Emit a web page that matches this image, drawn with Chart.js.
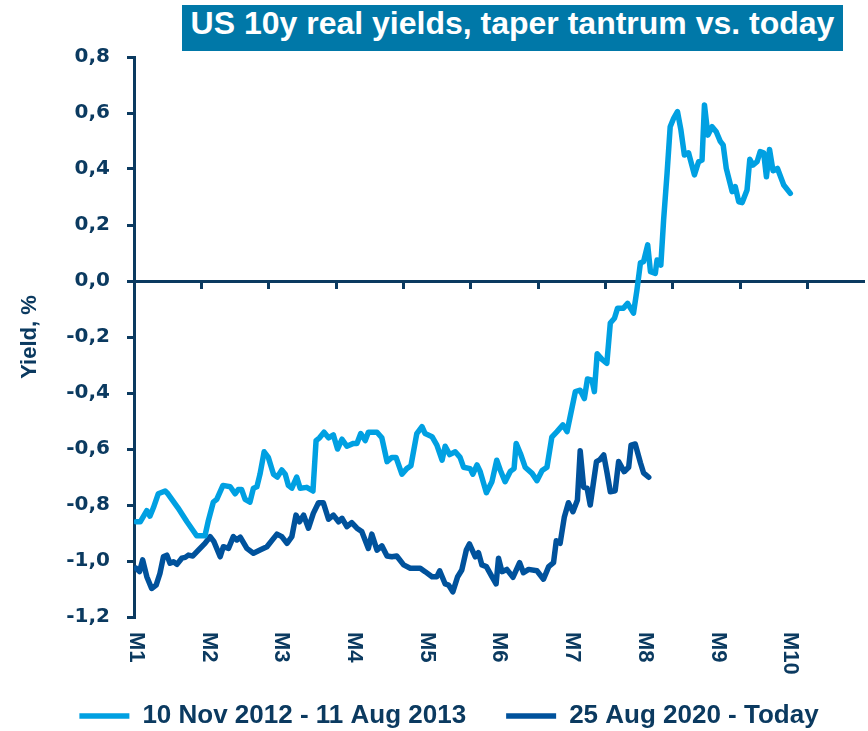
<!DOCTYPE html>
<html>
<head>
<meta charset="utf-8">
<script src="https://cdn.jsdelivr.net/npm/chart.js@4.4.1/dist/chart.umd.min.js"></script>
<style>
body { margin: 0; background: #fff; }
#wrap { position: relative; width: 868px; height: 731px; }
#titulo {
    position: absolute; left: 182px; top: 5px; width: 661px; height: 46px;
    background: #0078a8; color: #fff; text-align: center; line-height: 46px;
    font: bold 32px "Liberation Sans", Arial, sans-serif; white-space: nowrap;
}
</style>
</head>
<body>
<div id="wrap">
    <canvas id="grafico"></canvas>
    <div id="titulo">US 10y real yields, taper tantrum vs. today</div>
</div>
<script>
// Dados (eixo x em dias úteis desde o início do período)
const monthLabels = ['M1', 'M2', 'M3', 'M4', 'M5', 'M6', 'M7', 'M8', 'M9', 'M10'];
const monthDays = [0, 21, 42, 63, 84, 105, 126, 147, 168, 189];
const zeroAxisTicks = [-0.6, 18.9, 38.3, 57.8, 77.3, 96.7, 116.2, 135.6, 155.1, 174.6, 194.0];

const taperDays = [0,1.2,3.1,4.0,5.0,6.4,8.4,9.2,12.1,14.7,
    17.5,19.9,20.8,22.3,23.3,25.1,27.2,28.6,29.5,30.5,
    31.5,32.9,33.9,34.9,35.8,37.0,38.2,39.7,40.8,42.1,
    43.1,44.0,45.0,46.4,47.4,49.3,51.1,52.0,53.0,54.3,
    55.6,57.0,58.2,59.5,60.9,62.8,63.8,64.9,66.2,67.1,
    69.6,71.0,72.5,73.9,75.1,76.8,78.2,79.4,81.1,82.6,
    83.5,85.5,86.9,88.4,89.3,90.6,92.2,93.6,94.6,96.5,
    97.3,98.5,99.4,101.2,102.8,104.2,105.2,106.6,108.1,109.2,
    109.8,111.0,112.4,114.4,115.8,117.3,118.7,120.1,121.6,123.3,
    124.5,126.9,128.3,129.5,130.4,131.7,132.4,133.2,134.6,136.0,
    137.0,138.2,139.1,140.8,142.0,143.7,144.7,145.7,146.6,147.8,
    148.6,150.0,150.5,151.6,152.4,153.4,154.3,155.3,156.4,157.4,
    158.4,159.6,161.3,162.5,163.5,164.2,165.2,166.4,167.6,168.8,
    169.6,170.5,172.2,173.1,174.1,175.1,176.5,177.3,178.2,179.4,
    180.3,181.3,182.1,183.0,184.0,185.3,187.1,189.0];
const taperYields = [-0.86,-0.86,-0.82,-0.84,-0.81,-0.76,-0.75,-0.76,-0.81,-0.86,
    -0.91,-0.91,-0.86,-0.79,-0.78,-0.73,-0.735,-0.76,-0.745,-0.745,
    -0.78,-0.79,-0.74,-0.735,-0.69,-0.61,-0.63,-0.69,-0.70,-0.675,
    -0.69,-0.73,-0.74,-0.70,-0.74,-0.737,-0.75,-0.57,-0.56,-0.54,
    -0.56,-0.55,-0.60,-0.565,-0.59,-0.58,-0.58,-0.545,-0.57,-0.54,
    -0.54,-0.56,-0.645,-0.63,-0.63,-0.69,-0.67,-0.66,-0.545,-0.52,
    -0.545,-0.556,-0.586,-0.64,-0.59,-0.62,-0.61,-0.63,-0.665,-0.67,
    -0.69,-0.657,-0.68,-0.756,-0.717,-0.64,-0.675,-0.717,-0.68,-0.67,
    -0.58,-0.615,-0.665,-0.687,-0.713,-0.677,-0.665,-0.558,-0.538,-0.514,
    -0.538,-0.395,-0.39,-0.42,-0.35,-0.354,-0.395,-0.26,-0.28,-0.294,
    -0.15,-0.133,-0.097,-0.097,-0.08,-0.115,-0.032,0.065,0.069,0.129,
    0.033,0.027,0.075,0.057,0.218,0.385,0.551,0.581,0.605,0.539,
    0.45,0.458,0.379,0.426,0.432,0.629,0.521,0.551,0.533,0.498,
    0.486,0.402,0.319,0.337,0.283,0.28,0.325,0.435,0.414,0.426,
    0.462,0.458,0.372,0.47,0.394,0.402,0.343,0.313];

const todayDays = [0,1.0,1.9,3.1,4.5,5.8,6.9,7.9,8.9,9.8,
    10.8,11.8,13.2,14.2,15.1,16.4,18.0,19.9,21.4,22.5,
    24.3,25.2,26.7,28.1,29.1,30.1,32.0,33.9,35.8,37.8,
    40.7,42.1,43.6,45.0,46.2,47.2,48.4,49.8,51.2,52.7,
    54.1,55.6,57.0,58.5,59.5,60.9,62.3,63.8,65.2,67.1,
    68.1,69.6,71.0,72.5,73.9,75.3,77.3,79.2,82.1,83.5,
    85.5,86.9,87.7,89.3,90.3,91.5,92.9,94.1,95.4,96.3,
    98.0,98.9,99.9,101.2,102.8,104.0,104.7,105.7,107.1,108.9,
    110.8,111.9,113.4,115.8,117.7,119.2,120.6,121.4,122.5,123.7,
    124.9,126.2,127.5,128.3,129.3,130.3,131.2,133.0,133.9,135.1,
    136.0,137.0,138.4,139.4,141.0,142.3,143.0,144.2,145.7,146.6,
    148.1];
const todayYields = [-1.026,-1.038,-0.996,-1.056,-1.098,-1.086,-1.044,-0.985,-0.979,-1.008,
    -1.003,-1.012,-0.99,-0.987,-0.979,-0.982,-0.961,-0.937,-0.913,-0.931,
    -0.985,-0.949,-0.955,-0.913,-0.925,-0.915,-0.955,-0.9725,-0.961,-0.949,
    -0.904,-0.913,-0.937,-0.913,-0.836,-0.86,-0.836,-0.883,-0.83,-0.792,
    -0.792,-0.851,-0.836,-0.86,-0.8475,-0.8775,-0.863,-0.883,-0.895,-0.955,
    -0.904,-0.961,-0.946,-0.982,-0.985,-0.982,-1.014,-1.026,-1.026,-1.038,
    -1.056,-1.056,-1.035,-1.082,-1.086,-1.11,-1.056,-1.032,-0.961,-0.939,
    -0.985,-0.97,-1.014,-1.02,-1.056,-1.082,-0.99,-1.038,-1.03,-1.058,
    -1.006,-1.042,-1.03,-1.035,-1.065,-1.02,-1.006,-0.9275,-0.937,-0.844,
    -0.792,-0.824,-0.782,-0.606,-0.737,-0.74,-0.80,-0.645,-0.639,-0.621,
    -0.681,-0.7525,-0.749,-0.645,-0.681,-0.665,-0.586,-0.582,-0.649,-0.685,
    -0.701];

// Cores
const navy = '#0b3a60';
const lightBlue = '#00a0e2';
const darkBlue = '#00529c';

Chart.defaults.font.family = '"Liberation Sans", Arial, sans-serif';
Chart.defaults.color = navy;

// Rótulos M1..M10 girados no sentido horário, abaixo do gráfico
const monthLabelsPlugin = {
    id: 'monthLabels',
    afterDraw(chart) {
        const sx = chart.scales.x;
        const c = chart.ctx;
        c.save();
        c.font = 'bold 22px "Liberation Sans", Arial, sans-serif';
        c.fillStyle = navy;
        c.textAlign = 'left';
        c.textBaseline = 'middle';
        monthLabels.forEach((lab, i) => {
            c.save();
            c.translate(sx.getPixelForValue(monthDays[i]), chart.chartArea.bottom + 15);
            c.rotate(Math.PI / 2);
            c.fillText(lab, 0, 0);
            c.restore();
        });
        c.restore();
    }
};

const ctx = document.getElementById('grafico');
new Chart(ctx, {
    type: 'line',
    data: {
        datasets: [{
            label: '10 Nov 2012 - 11 Aug 2013',
            data: taperDays.map((d, i) => ({ x: d, y: taperYields[i] })),
            borderColor: lightBlue,
            backgroundColor: lightBlue,
            borderWidth: 5.5,
            pointRadius: 0,
            pointStyle: 'line',
            borderCapStyle: 'round',
            borderJoinStyle: 'round',
            tension: 0
        }, {
            label: '25 Aug 2020 - Today',
            data: todayDays.map((d, i) => ({ x: d, y: todayYields[i] })),
            borderColor: darkBlue,
            backgroundColor: darkBlue,
            borderWidth: 5.5,
            pointRadius: 0,
            pointStyle: 'line',
            borderCapStyle: 'round',
            borderJoinStyle: 'round',
            tension: 0
        }]
    },
    options: {
        responsive: true,
        maintainAspectRatio: false,
        animation: false,
        layout: { padding: { left: 35, right: 5, top: 57, bottom: -8 } },
        scales: {
            x: {
                type: 'linear',
                position: 'bottom',
                min: -0.6,
                max: 210,
                grid: { display: false },
                border: { display: false },
                ticks: { display: false },
                afterFit: s => { s.height = 46; }
            },
            x0: {
                type: 'linear',
                axis: 'x',
                position: { y: 0 },
                min: -0.6,
                max: 210,
                grid: { drawOnChartArea: false, tickLength: 6, color: navy, lineWidth: 3 },
                border: { display: true, color: navy, width: 3 },
                ticks: { display: false },
                afterBuildTicks: s => { s.ticks = zeroAxisTicks.map(v => ({ value: v })); }
            },
            y: {
                min: -1.2,
                max: 0.8,
                ticks: {
                    stepSize: 0.2,
                    color: navy,
                    padding: 17,
                    font: { family: '"DejaVu Sans", Verdana, sans-serif', size: 20, weight: 'bold' },
                    callback: function(value) {
                        const v = Math.abs(value) < 1e-9 ? 0 : value;
                        return v.toFixed(1).replace('.', ',');
                    }
                },
                grid: { drawOnChartArea: false, tickLength: 7, color: navy, lineWidth: 3 },
                border: { display: true, color: navy, width: 3 },
                title: {
                    display: true,
                    text: 'Yield, %',
                    color: navy,
                    font: { size: 22, weight: 'bold' },
                    padding: { top: -18, bottom: 0 }
                },
                afterFit: s => { s.width = 99; }
            }
        },
        plugins: {
            legend: {
                position: 'bottom',
                labels: {
                    usePointStyle: true,
                    pointStyleWidth: 50,
                    color: navy,
                    padding: 40,
                    font: { size: 26, weight: 'bold' }
                }
            },
            tooltip: { enabled: false }
        }
    },
    plugins: [monthLabelsPlugin]
});
</script>
</body>
</html>
